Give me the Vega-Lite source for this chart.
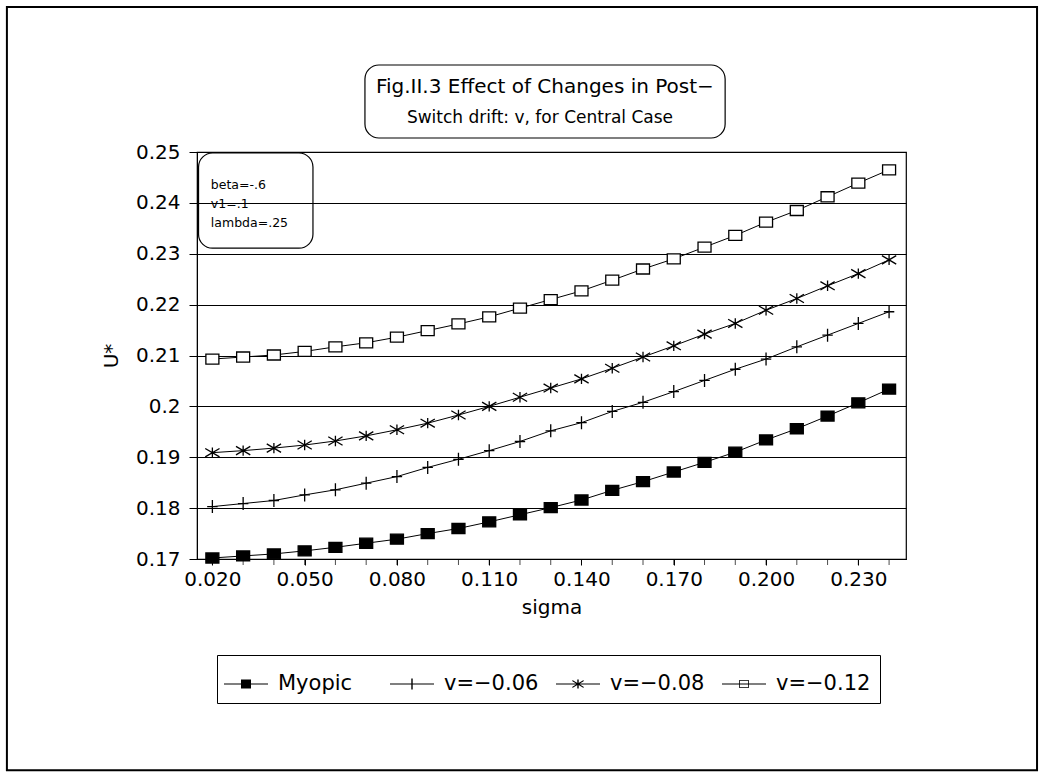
{
  "$schema": "https://vega.github.io/schema/vega-lite/v6.json",
  "width": 709,
  "height": 407,
  "autosize": "none",
  "padding": {"left": 197, "top": 152, "right": 134, "bottom": 214},
  "background": "white",
  "config": {
    "font": "DejaVu Sans",
    "view": {"stroke": "black", "strokeWidth": 1.2},
    "axis": {
      "domainColor": "black",
      "tickColor": "black",
      "labelColor": "black",
      "titleColor": "black",
      "labelFont": "DejaVu Sans",
      "titleFont": "DejaVu Sans",
      "labelFontSize": 20,
      "titleFontSize": 20,
      "titleFontWeight": "normal"
    }
  },
  "datasets": {
    "curves": [
      {"sigma": 0.02, "series": "Myopic", "U": 0.1702},
      {"sigma": 0.03, "series": "Myopic", "U": 0.1706},
      {"sigma": 0.04, "series": "Myopic", "U": 0.1710},
      {"sigma": 0.05, "series": "Myopic", "U": 0.1716},
      {"sigma": 0.06, "series": "Myopic", "U": 0.1723},
      {"sigma": 0.07, "series": "Myopic", "U": 0.1731},
      {"sigma": 0.08, "series": "Myopic", "U": 0.1739},
      {"sigma": 0.09, "series": "Myopic", "U": 0.1750},
      {"sigma": 0.10, "series": "Myopic", "U": 0.1760},
      {"sigma": 0.11, "series": "Myopic", "U": 0.1773},
      {"sigma": 0.12, "series": "Myopic", "U": 0.1787},
      {"sigma": 0.13, "series": "Myopic", "U": 0.1801},
      {"sigma": 0.14, "series": "Myopic", "U": 0.1816},
      {"sigma": 0.15, "series": "Myopic", "U": 0.1835},
      {"sigma": 0.16, "series": "Myopic", "U": 0.1852},
      {"sigma": 0.17, "series": "Myopic", "U": 0.1871},
      {"sigma": 0.18, "series": "Myopic", "U": 0.1890},
      {"sigma": 0.19, "series": "Myopic", "U": 0.1910},
      {"sigma": 0.20, "series": "Myopic", "U": 0.1934},
      {"sigma": 0.21, "series": "Myopic", "U": 0.1956},
      {"sigma": 0.22, "series": "Myopic", "U": 0.1981},
      {"sigma": 0.23, "series": "Myopic", "U": 0.2007},
      {"sigma": 0.24, "series": "Myopic", "U": 0.2034},
      {"sigma": 0.02, "series": "v=−0.06", "U": 0.1803},
      {"sigma": 0.03, "series": "v=−0.06", "U": 0.1809},
      {"sigma": 0.04, "series": "v=−0.06", "U": 0.1815},
      {"sigma": 0.05, "series": "v=−0.06", "U": 0.1826},
      {"sigma": 0.06, "series": "v=−0.06", "U": 0.1836},
      {"sigma": 0.07, "series": "v=−0.06", "U": 0.1849},
      {"sigma": 0.08, "series": "v=−0.06", "U": 0.1862},
      {"sigma": 0.09, "series": "v=−0.06", "U": 0.1880},
      {"sigma": 0.10, "series": "v=−0.06", "U": 0.1896},
      {"sigma": 0.11, "series": "v=−0.06", "U": 0.1913},
      {"sigma": 0.12, "series": "v=−0.06", "U": 0.1931},
      {"sigma": 0.13, "series": "v=−0.06", "U": 0.1952},
      {"sigma": 0.14, "series": "v=−0.06", "U": 0.1968},
      {"sigma": 0.15, "series": "v=−0.06", "U": 0.1990},
      {"sigma": 0.16, "series": "v=−0.06", "U": 0.2008},
      {"sigma": 0.17, "series": "v=−0.06", "U": 0.2029},
      {"sigma": 0.18, "series": "v=−0.06", "U": 0.2051},
      {"sigma": 0.19, "series": "v=−0.06", "U": 0.2073},
      {"sigma": 0.20, "series": "v=−0.06", "U": 0.2093},
      {"sigma": 0.21, "series": "v=−0.06", "U": 0.2117},
      {"sigma": 0.22, "series": "v=−0.06", "U": 0.2140},
      {"sigma": 0.23, "series": "v=−0.06", "U": 0.2163},
      {"sigma": 0.24, "series": "v=−0.06", "U": 0.2186},
      {"sigma": 0.02, "series": "v=−0.08", "U": 0.1909},
      {"sigma": 0.03, "series": "v=−0.08", "U": 0.1913},
      {"sigma": 0.04, "series": "v=−0.08", "U": 0.1918},
      {"sigma": 0.05, "series": "v=−0.08", "U": 0.1924},
      {"sigma": 0.06, "series": "v=−0.08", "U": 0.1932},
      {"sigma": 0.07, "series": "v=−0.08", "U": 0.1942},
      {"sigma": 0.08, "series": "v=−0.08", "U": 0.1954},
      {"sigma": 0.09, "series": "v=−0.08", "U": 0.1967},
      {"sigma": 0.10, "series": "v=−0.08", "U": 0.1983},
      {"sigma": 0.11, "series": "v=−0.08", "U": 0.2000},
      {"sigma": 0.12, "series": "v=−0.08", "U": 0.2018},
      {"sigma": 0.13, "series": "v=−0.08", "U": 0.2036},
      {"sigma": 0.14, "series": "v=−0.08", "U": 0.2054},
      {"sigma": 0.15, "series": "v=−0.08", "U": 0.2075},
      {"sigma": 0.16, "series": "v=−0.08", "U": 0.2097},
      {"sigma": 0.17, "series": "v=−0.08", "U": 0.2119},
      {"sigma": 0.18, "series": "v=−0.08", "U": 0.2142},
      {"sigma": 0.19, "series": "v=−0.08", "U": 0.2163},
      {"sigma": 0.20, "series": "v=−0.08", "U": 0.2189},
      {"sigma": 0.21, "series": "v=−0.08", "U": 0.2212},
      {"sigma": 0.22, "series": "v=−0.08", "U": 0.2237},
      {"sigma": 0.23, "series": "v=−0.08", "U": 0.2261},
      {"sigma": 0.24, "series": "v=−0.08", "U": 0.2288},
      {"sigma": 0.02, "series": "v=−0.12", "U": 0.2093},
      {"sigma": 0.03, "series": "v=−0.12", "U": 0.2097},
      {"sigma": 0.04, "series": "v=−0.12", "U": 0.2101},
      {"sigma": 0.05, "series": "v=−0.12", "U": 0.2108},
      {"sigma": 0.06, "series": "v=−0.12", "U": 0.2117},
      {"sigma": 0.07, "series": "v=−0.12", "U": 0.2125},
      {"sigma": 0.08, "series": "v=−0.12", "U": 0.2136},
      {"sigma": 0.09, "series": "v=−0.12", "U": 0.2149},
      {"sigma": 0.10, "series": "v=−0.12", "U": 0.2162},
      {"sigma": 0.11, "series": "v=−0.12", "U": 0.2176},
      {"sigma": 0.12, "series": "v=−0.12", "U": 0.2193},
      {"sigma": 0.13, "series": "v=−0.12", "U": 0.2210},
      {"sigma": 0.14, "series": "v=−0.12", "U": 0.2227},
      {"sigma": 0.15, "series": "v=−0.12", "U": 0.2248},
      {"sigma": 0.16, "series": "v=−0.12", "U": 0.2270},
      {"sigma": 0.17, "series": "v=−0.12", "U": 0.2290},
      {"sigma": 0.18, "series": "v=−0.12", "U": 0.2313},
      {"sigma": 0.19, "series": "v=−0.12", "U": 0.2336},
      {"sigma": 0.20, "series": "v=−0.12", "U": 0.2362},
      {"sigma": 0.21, "series": "v=−0.12", "U": 0.2385},
      {"sigma": 0.22, "series": "v=−0.12", "U": 0.2412},
      {"sigma": 0.23, "series": "v=−0.12", "U": 0.2439},
      {"sigma": 0.24, "series": "v=−0.12", "U": 0.2465}
    ]
  },
  "resolve": {"scale": {"shape": "independent", "fill": "independent"}, "legend": {"shape": "independent", "fill": "independent"}},
  "layer": [
    {
      "data": {"name": "curves"},
      "mark": {"type": "line", "stroke": "black", "strokeWidth": 1},
      "encoding": {
        "x": {
          "field": "sigma", "type": "quantitative",
          "scale": {"domain": [0.015, 0.2455], "nice": false, "zero": false},
          "axis": {
            "title": "sigma",
            "titlePadding": 8,
            "values": [0.02, 0.05, 0.08, 0.11, 0.14, 0.17, 0.2, 0.23],
            "format": ".3f",
            "tickSize": 6,
            "labelPadding": 4,
            "grid": false,
            "labelFlush": false,
            "labelOverlap": false
          }
        },
        "y": {
          "field": "U", "type": "quantitative",
          "scale": {"domain": [0.17, 0.25], "nice": false, "zero": false},
          "axis": {
            "title": "U*",
            "titlePadding": 14,
            "values": [0.17,0.18,0.19,0.2,0.21,0.22,0.23,0.24,0.25],
            "labelExpr": "format(datum.value, '.2~f')",
            "tickSize": 8,
            "labelPadding": 9,
            "grid": true,
            "gridColor": "black",
            "gridOpacity": 1,
            "gridWidth": 1
          }
        },
        "detail": {"field": "series"}
      }
    },
    {
      "data": {"name": "curves"},
      "transform": [{"filter": "datum.series == 'Myopic'"}],
      "mark": {"type": "tick", "orient": "vertical", "color": "black", "thickness": 1, "size": 6, "yOffset": 3, "clip": false},
      "encoding": {
        "x": {"field": "sigma", "type": "quantitative", "scale": {"domain": [0.015, 0.2455], "nice": false, "zero": false}},
        "y": {"datum": 0.17, "type": "quantitative", "scale": {"domain": [0.17, 0.25], "nice": false, "zero": false}}
      }
    },
    {
      "data": {"name": "curves"},
      "mark": {"type": "point", "stroke": "black", "strokeWidth": 1.3, "opacity": 1, "size": 169},
      "encoding": {
        "x": {"field": "sigma", "type": "quantitative", "scale": {"domain": [0.015, 0.2455], "nice": false, "zero": false}},
        "y": {"field": "U", "type": "quantitative", "scale": {"domain": [0.17, 0.25], "nice": false, "zero": false}},
        "shape": {
          "field": "series", "type": "nominal",
          "scale": {
            "domain": ["Myopic", "v=−0.06", "v=−0.08", "v=−0.12"],
            "range": ["M-1,-0.77H1V0.77H-1Z", "M-0.8,0H0.8M0,-1V1", "M-1.1,-0.65L1.1,0.65M-1.1,0.65L1.1,-0.65M0,-0.8V0.8", "M-1,-0.77H1V0.77H-1Z"]
          },
          "legend": null
        },
        "fill": {
          "field": "series", "type": "nominal",
          "scale": {
            "domain": ["Myopic", "v=−0.06", "v=−0.08", "v=−0.12"],
            "range": ["black", "transparent", "transparent", "white"]
          },
          "legend": null
        }
      }
    },
    {
      "data": {"name": "curves"},
      "transform": [{"filter": "false"}],
      "mark": {"type": "point", "filled": true, "fill": "black", "stroke": "black", "strokeWidth": 0},
      "encoding": {
        "shape": {
          "field": "series", "type": "nominal",
          "scale": {
            "domain": ["Myopic", "v=−0.06", "v=−0.08", "v=−0.12"],
            "range": [
              "M-1.1,-0.03H1.1V0.03H-1.1Z M-0.25,-0.22H0.25V0.22H-0.25Z",
              "M-1.1,-0.03H1.1V0.03H-1.1Z M-0.035,-0.27H0.035V0.27H-0.035Z",
              "M-1.1,-0.03H1.1V0.03H-1.1Z M-0.035,-0.22H0.035V0.22H-0.035Z M-0.28,-0.2L0.28,0.14L0.28,0.2L-0.28,-0.14Z M-0.28,0.14L0.28,-0.2L0.28,-0.14L-0.28,0.2Z",
              "M-1.1,-0.03H1.1V0.03H-1.1Z M-0.24,-0.2H0.24V0.2H-0.24Z M-0.2,-0.16V0.16H0.2V-0.16Z"
            ]
          },
          "legend": {
            "title": null,
            "orient": "none",
            "legendX": 20,
            "legendY": 503,
            "direction": "horizontal",
            "columns": 4,
            "gridAlign": "all",
            "strokeColor": "black",
            "padding": 9,
            "columnPadding": 17,
            "labelFont": "DejaVu Sans",
            "labelFontSize": 21,
            "labelColor": "black",
            "labelOffset": 12,
            "symbolSize": 1600,
            "symbolFillColor": "black",
            "symbolStrokeColor": "black",
            "symbolStrokeWidth": 0,
            "symbolOpacity": 1
          }
        }
      }
    },
    {
      "data": {"values": [{}]},
      "mark": {"type": "rect", "fill": null, "fillOpacity": 0, "stroke": "black", "strokeWidth": 1.2, "cornerRadius": 14, "clip": false},
      "encoding": {
        "x": {"datum": 0.0155, "type": "quantitative", "scale": {"domain": [0.015, 0.2455], "nice": false, "zero": false}},
        "x2": {"datum": 0.0527},
        "y": {"datum": 0.2498, "type": "quantitative", "scale": {"domain": [0.17, 0.25], "nice": false, "zero": false}},
        "y2": {"datum": 0.2311}
      }
    },
    {
      "data": {"values": [{}]},
      "mark": {"type": "text", "align": "left", "baseline": "alphabetic", "font": "DejaVu Sans", "fontSize": 12.5, "fontWeight": "normal", "lineHeight": 19, "fill": "black", "clip": false},
      "encoding": {
        "x": {"datum": 0.0195, "type": "quantitative", "scale": {"domain": [0.015, 0.2455], "nice": false, "zero": false}},
        "y": {"datum": 0.2427, "type": "quantitative", "scale": {"domain": [0.17, 0.25], "nice": false, "zero": false}},
        "text": {"value": ["beta=-.6", "v1=.1", "lambda=.25"]}
      }
    },
    {
      "data": {"values": [{}]},
      "mark": {"type": "rect", "fill": null, "fillOpacity": 0, "stroke": "black", "strokeWidth": 1.2, "cornerRadius": 14, "clip": false},
      "encoding": {
        "x": {"datum": 0.0696, "type": "quantitative", "scale": {"domain": [0.015, 0.2455], "nice": false, "zero": false}},
        "x2": {"datum": 0.1867},
        "y": {"datum": 0.2671, "type": "quantitative", "scale": {"domain": [0.17, 0.25], "nice": false, "zero": false}},
        "y2": {"datum": 0.25275}
      }
    },
    {
      "data": {"values": [{}]},
      "mark": {"type": "text", "align": "center", "baseline": "alphabetic", "font": "DejaVu Sans", "fontSize": 20, "fontWeight": "normal", "fill": "black", "clip": false},
      "encoding": {
        "x": {"datum": 0.1281, "type": "quantitative", "scale": {"domain": [0.015, 0.2455], "nice": false, "zero": false}},
        "y": {"datum": 0.2616, "type": "quantitative", "scale": {"domain": [0.17, 0.25], "nice": false, "zero": false}},
        "text": {"value": "Fig.II.3 Effect of Changes in Post−"}
      }
    },
    {
      "data": {"values": [{}]},
      "mark": {"type": "text", "align": "center", "baseline": "alphabetic", "font": "DejaVu Sans", "fontSize": 17, "fontWeight": "normal", "fill": "black", "clip": false},
      "encoding": {
        "x": {"datum": 0.1265, "type": "quantitative", "scale": {"domain": [0.015, 0.2455], "nice": false, "zero": false}},
        "y": {"datum": 0.2557, "type": "quantitative", "scale": {"domain": [0.17, 0.25], "nice": false, "zero": false}},
        "text": {"value": "Switch drift: v,  for Central Case"}
      }
    },
    {
      "data": {"values": [{}]},
      "mark": {"type": "rect", "fill": null, "fillOpacity": 0, "stroke": "black", "strokeWidth": 2, "clip": false},
      "encoding": {
        "x": {"datum": -0.0468, "type": "quantitative", "scale": {"domain": [0.015, 0.2455], "nice": false, "zero": false}},
        "x2": {"datum": 0.2881},
        "y": {"datum": 0.2785, "type": "quantitative", "scale": {"domain": [0.17, 0.25], "nice": false, "zero": false}},
        "y2": {"datum": 0.1285}
      }
    }
  ]
}
